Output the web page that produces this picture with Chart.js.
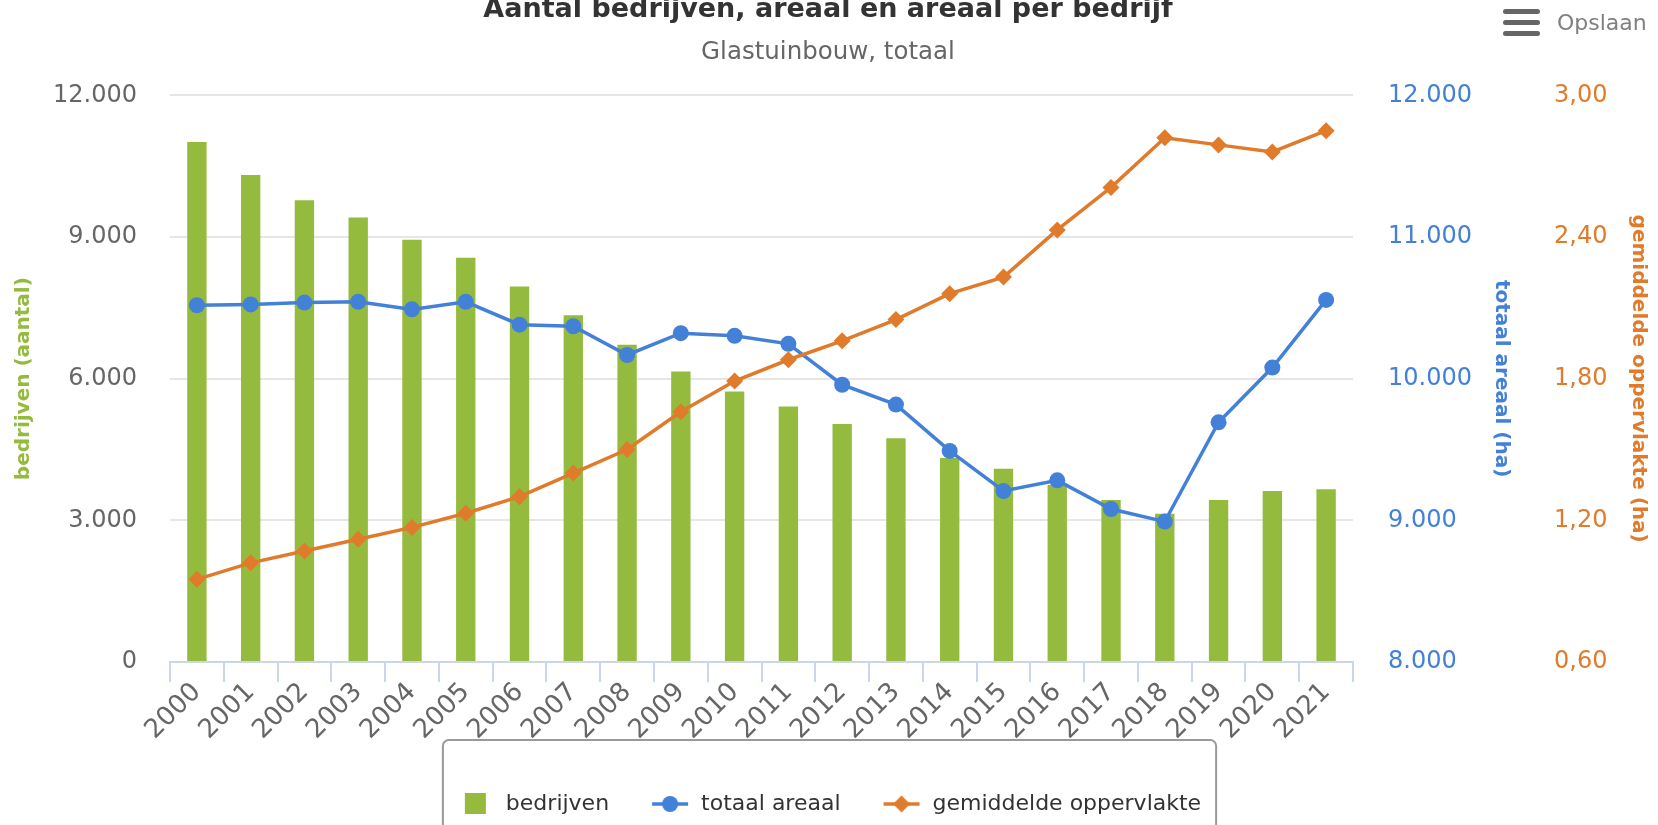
<!DOCTYPE html>
<html>
<head>
<meta charset="utf-8">
<script src="https://cdn.jsdelivr.net/npm/chart.js@4"></script>
<style>
  body { margin: 0; background: #fff; overflow: hidden; width: 1658px; height: 825px; position: relative; }
  #wrap { position: absolute; left: 0; top: -16px; width: 1658px; height: 845px; }
  #menu { position: absolute; left: 1503px; top: 7px; height: 30px; display: flex; align-items: center;
          font-family: "DejaVu Sans"; font-size: 22px; color: #808080; }
  #menu .icon { width: 37px; height: 27px; margin-right: 17px; display: flex; flex-direction: column; justify-content: space-between; }
  #menu .icon span { display: block; height: 5px; border-radius: 3px; background: #666; }
</style>
</head>
<body>
<div id="wrap"><canvas id="myChart"></canvas></div>
<div id="menu"><div class="icon"><span></span><span></span><span></span></div>Opslaan</div>
<script>
const years = ["2000", "2001", "2002", "2003", "2004", "2005", "2006", "2007", "2008", "2009", "2010",
  "2011", "2012", "2013", "2014", "2015", "2016", "2017", "2018", "2019", "2020", "2021"];
const bedrijven = [11010, 10310, 9780, 9410, 8940, 8560, 7950, 7340, 6720, 6150, 5730,
  5410, 5040, 4740, 4320, 4090, 3750, 3430, 3140, 3430, 3620, 3660];
const totaalAreaal = [10518, 10524, 10537, 10542, 10489, 10542, 10381, 10370, 10167, 10321, 10302,
  10246, 9957, 9817, 9490, 9207, 9282, 9080, 8991, 9692, 10078, 10556];
const gemOppervlakte = [0.95, 1.02, 1.07, 1.12, 1.17, 1.23, 1.30, 1.40, 1.50, 1.66, 1.79,
  1.88, 1.96, 2.05, 2.16, 2.23, 2.43, 2.61, 2.82, 2.79, 2.76, 2.85];

const green = "#94bb3e";
const blue = "#4380d8";
const orange = "#e07b2c";

Chart.defaults.font.family = "DejaVu Sans";
Chart.defaults.color = "#666";

function thousands(v) {
  return String(v).replace(/\B(?=(\d{3})+(?!\d))/g, ".");
}

// small legend icons (line + marker, square)
function makeIcon(kind) {
  let c = document.createElement("canvas");
  c.width = 40; c.height = 22;
  let g = c.getContext("2d");
  if (kind == "bar") {
    g.fillStyle = green;
    g.fillRect(10, 0, 21, 21);
  } else {
    let col = kind == "circle" ? blue : orange;
    g.strokeStyle = col; g.lineWidth = 3.5;
    g.beginPath(); g.moveTo(2, 11); g.lineTo(38, 11); g.stroke();
    g.fillStyle = col;
    g.beginPath();
    if (kind == "circle") g.arc(20, 11, 8, 0, Math.PI * 2);
    else { g.moveTo(20, 2.5); g.lineTo(28.5, 11); g.lineTo(20, 19.5); g.lineTo(11.5, 11); g.closePath(); }
    g.fill();
  }
  return c;
}
const icons = [makeIcon("bar"), makeIcon("circle"), makeIcon("diamond")];

// border round the legend
const legendBox = {
  id: "legendBox",
  afterDraw(chart) {
    const lg = chart.legend;
    if (!lg || !lg.legendHitBoxes || !lg.legendHitBoxes.length) return;
    let l = Infinity, r = -Infinity;
    lg.legendHitBoxes.forEach(h => { l = Math.min(l, h.left); r = Math.max(r, h.left + h.width); });
    const ctx = chart.ctx;
    ctx.save();
    ctx.strokeStyle = "#999";
    ctx.lineWidth = 2;
    ctx.beginPath();
    ctx.roundRect(l - 12, lg.top - 12, r - l + 27, 140, 6);
    ctx.stroke();
    ctx.restore();
  }
};

let ctx = document.getElementById("myChart").getContext("2d");
let chart = new Chart(ctx, {
  type: "bar",
  data: {
    labels: years,
    datasets: [
      {
        type: "bar",
        label: "bedrijven",
        data: bedrijven,
        backgroundColor: green,
        yAxisID: "y",
        barPercentage: 0.36,
        categoryPercentage: 1,
        order: 3
      },
      {
        type: "line",
        label: "totaal areaal",
        data: totaalAreaal,
        borderColor: blue,
        backgroundColor: blue,
        borderWidth: 3.5,
        pointStyle: "circle",
        pointRadius: 8,
        pointBorderWidth: 0,
        yAxisID: "y1",
        order: 2
      },
      {
        type: "line",
        label: "gemiddelde oppervlakte",
        data: gemOppervlakte,
        borderColor: orange,
        backgroundColor: orange,
        borderWidth: 3.5,
        pointStyle: "rectRot",
        pointRadius: 8.5,
        pointBorderWidth: 0,
        yAxisID: "y2",
        order: 1
      }
    ]
  },
  options: {
    responsive: true,
    maintainAspectRatio: false,
    animation: false,
    layout: { padding: { left: 0, right: 2, top: 0, bottom: 4 } },
    plugins: {
      tooltip: { enabled: false },
      title: {
        display: true,
        text: "Aantal bedrijven, areaal en areaal per bedrijf",
        color: "#333",
        font: { size: 27, weight: "bold" },
        padding: { top: 10, bottom: 12 }
      },
      subtitle: {
        display: true,
        text: "Glastuinbouw, totaal",
        color: "#666",
        font: { size: 24.5 },
        padding: { top: 0, bottom: 27.5 }
      },
      legend: {
        position: "bottom",
        labels: {
          usePointStyle: true,
          pointStyleWidth: 40,
          padding: 41,
          color: "#333",
          font: { size: 22 },
          sort: (a, b) => a.datasetIndex - b.datasetIndex,
          generateLabels(chart) {
            let items = Chart.defaults.plugins.legend.labels.generateLabels(chart);
            items.forEach(it => { it.pointStyle = icons[it.datasetIndex]; });
            return items;
          }
        }
      }
    },
    scales: {
      x: {
        offset: true,
        grid: { drawOnChartArea: false, drawTicks: true, tickLength: 20, color: "#ccd6eb", lineWidth: 2, offset: true },
        border: { color: "#ccd6eb", width: 2 },
        ticks: { maxRotation: 45, minRotation: 45, autoSkip: false, font: { size: 26 }, color: "#666", padding: -5 },
        afterFit: s => { s.height = 90; }
      },
      y: {
        position: "left",
        min: 0,
        max: 12000,
        grid: { color: "#e6e6e6", lineWidth: 2, drawTicks: false },
        border: { display: false },
        ticks: { stepSize: 3000, font: { size: 24 }, color: "#666", padding: 33, callback: v => thousands(v) },
        title: { display: true, text: "bedrijven (aantal)", color: green, font: { size: 20, weight: "bold" }, padding: { top: 12, bottom: 17 } },
        afterFit: s => { s.width = 170; }
      },
      y1: {
        position: "right",
        min: 8000,
        max: 12000,
        grid: { display: false, drawTicks: false },
        border: { display: false },
        ticks: { stepSize: 1000, font: { size: 24 }, color: blue, padding: 35, callback: v => thousands(v) },
        title: { display: true, text: "totaal areaal (ha)", color: blue, font: { size: 20, weight: "bold" }, padding: { top: 4, bottom: 17 } },
        afterFit: s => { s.width = 164; }
      },
      y2: {
        position: "right",
        min: 0.6,
        max: 3.0,
        grid: { display: false, drawTicks: false },
        border: { display: false },
        ticks: { stepSize: 0.6, font: { size: 24 }, color: orange, padding: 37, callback: v => v.toFixed(2).replace(".", ",") },
        title: { display: true, text: "gemiddelde oppervlakte (ha)", color: orange, font: { size: 20, weight: "bold" }, padding: { top: 6, bottom: 18 } },
        afterFit: s => { s.width = 139; }
      }
    }
  },
  plugins: [legendBox]
});
</script>
</body>
</html>
